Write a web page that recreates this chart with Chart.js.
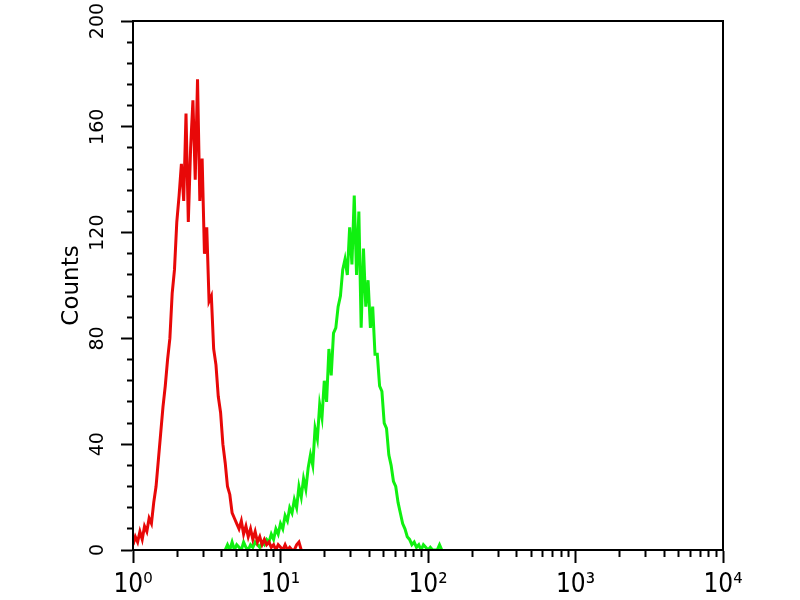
<!DOCTYPE html>
<html>
<head>
<meta charset="utf-8">
<script src="https://cdn.jsdelivr.net/npm/chart.js@4.4.1/dist/chart.umd.min.js"></script>
<style>
html,body{margin:0;padding:0;background:#fff}
#wrap{width:800px;height:600px}
</style>
</head>
<body>
<div id="wrap"><canvas id="c" width="800" height="600"></canvas></div>
<script>
// ---- data ----
const channelsPerDecade = 64;          // histogram channels per log decade
const redStartChannel = 0;
const redCounts = [2,5,3,7,4,9,7,12,10,18,
  24,34,44,54,62,72,80,97,106,124,
  134,146,132,165,124,152,170,140,178,132,
  148,112,122,94,96,76,70,58,52,40,
  33,24,21,14,12,10,8,11,6,9,
  5,8,4,7,3,5,2,4,2,3,
  1,2,0,2,1,0,2,0,1,0,
  0,2,3,0];
const greenStartChannel = 40;
const greenCounts = [0,2,0,3,0,2,1,0,3,1,
  0,2,1,3,2,1,3,2,4,3,
  6,4,8,6,10,8,13,11,16,14,
  19,16,24,20,27,23,31,36,32,46,
  42,55,50,64,56,76,66,82,84,92,
  96,106,110,104,122,108,134,104,128,84,
  114,92,102,84,92,74,74,62,60,48,
  46,36,32,26,24,18,14,10,8,5,
  4,2,3,1,2,0,2,1,0,1,
  0,0,0,2,0];
const xDecades = [1, 10, 100, 1000, 10000];
const xTickLabels = ['10\u2070', '10\u00B9', '10\u00B2', '10\u00B3', '10\u2074'];
const yMajorStep = 40;
const yMinorStep = 8;
const yMax = 200;
const yTitle = 'Counts';

function toPoints(start, counts) {
  return counts.map((v, i) => ({ x: Math.pow(10, (start + i) / channelsPerDecade), y: v }));
}

const frame = {
  id: 'frame',
  afterDatasetsDraw(chart) {
    const { ctx, chartArea: a } = chart;
    ctx.save();
    ctx.strokeStyle = '#000';
    ctx.lineWidth = 2;
    ctx.strokeRect(a.left, a.top, a.right - a.left, a.bottom - a.top);
    ctx.restore();
  }
};

new Chart(document.getElementById('c'), {
  type: 'line',
  data: {
    datasets: [
      { label: 'control', data: toPoints(redStartChannel, redCounts),
        borderColor: '#e80808', borderWidth: 3, pointRadius: 0, tension: 0, fill: false },
      { label: 'sample', data: toPoints(greenStartChannel, greenCounts),
        borderColor: '#10f010', borderWidth: 3, pointRadius: 0, tension: 0, fill: false }
    ]
  },
  options: {
    responsive: false,
    animation: false,
    devicePixelRatio: 1,
    layout: { padding: { left: 54, top: 21, right: 77, bottom: 0 } },
    plugins: { legend: { display: false }, tooltip: { enabled: false } },
    scales: {
      x: {
        type: 'logarithmic',
        min: xDecades[0],
        max: xDecades[xDecades.length - 1],
        afterBuildTicks: (s) => {
          const t = [];
          for (let d = 0; d < xDecades.length - 1; d++) {
            for (let m = 1; m <= 9; m++) t.push({ value: m * xDecades[d] });
          }
          t.push({ value: xDecades[xDecades.length - 1] });
          s.ticks = t;
        },
        afterFit: (s) => { s.height = 50; },
        border: { display: true, color: '#000', width: 2 },
        grid: {
          drawOnChartArea: false,
          drawTicks: true,
          tickLength: 13,
          tickColor: '#000',
          tickWidth: 2,
          tickBorderDash: (ctx) => (ctx.tick && xDecades.indexOf(ctx.tick.value) >= 0) ? [] : [6, 40]
        },
        ticks: {
          autoSkip: false,
          maxRotation: 0,
          minRotation: 0,
          padding: 7,
          color: '#000',
          font: { family: "'DejaVu Sans Condensed','DejaVu Sans',sans-serif", size: 26 },
          callback: (v) => { const i = xDecades.indexOf(v); return i >= 0 ? xTickLabels[i] : ''; }
        }
      },
      y: {
        type: 'linear',
        min: 0,
        max: yMax,
        afterFit: (s) => { s.width = 79; },
        border: { display: true, color: '#000', width: 2 },
        grid: {
          drawOnChartArea: false,
          drawTicks: true,
          tickLength: 12,
          tickColor: '#000',
          tickWidth: 2,
          tickBorderDash: (ctx) => (ctx.tick && ctx.tick.value % yMajorStep === 0) ? [] : [0, 6, 20, 0]
        },
        title: {
          display: true,
          text: yTitle,
          color: '#000',
          padding: { top: 4, bottom: 0 },
          font: { family: "'DejaVu Sans',sans-serif", size: 23 }
        },
        ticks: {
          stepSize: yMinorStep,
          autoSkip: false,
          minRotation: 90,
          maxRotation: 90,
          crossAlign: 'center',
          padding: 5,
          color: '#000',
          font: { family: "'DejaVu Sans',sans-serif", size: 19 },
          callback: (v) => (v % yMajorStep === 0 ? String(v) : '')
        }
      }
    }
  },
  plugins: [frame]
});
</script>
</body>
</html>
